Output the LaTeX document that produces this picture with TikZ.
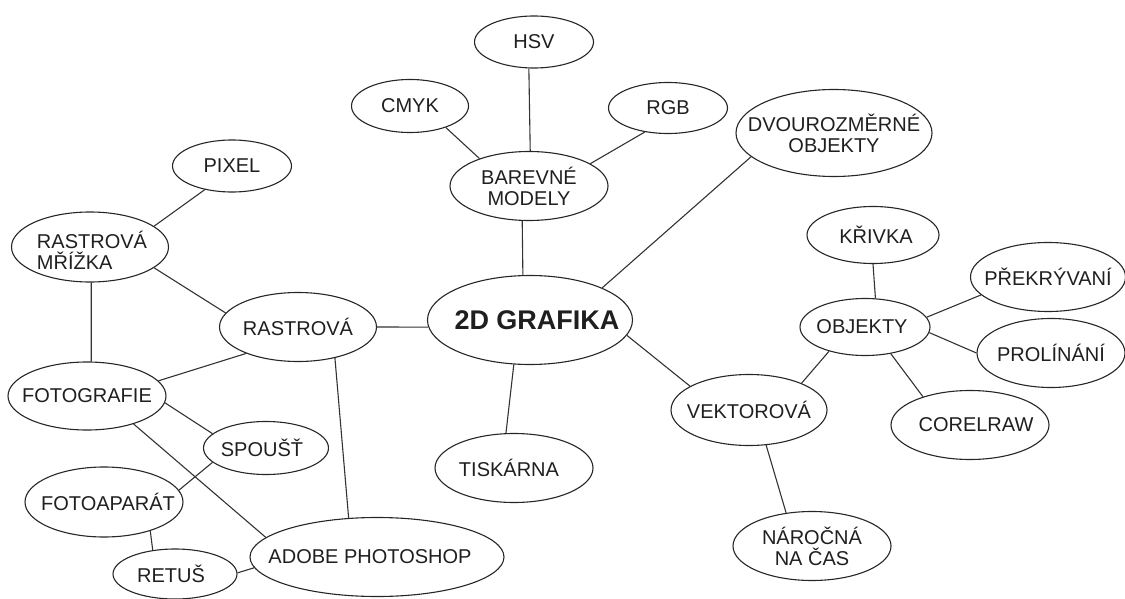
\documentclass[tikz,border=0pt]{standalone}
\usepackage{fontspec}
\setmainfont{Liberation Sans}
\usetikzlibrary{shapes.geometric}
\begin{document}
\begin{tikzpicture}[x=1pt,y=-1pt,
  bubble/.style 2 args={ellipse, draw=black!85, line width=1.1pt,
    minimum width=#1pt, minimum height=#2pt, inner sep=0pt},
  lbltext/.style={inner sep=0pt, text=black!88,
    font=\fontsize{20}{21}\selectfont, align=center},
  link/.style={draw=black!80, line width=1.1pt}]
\useasboundingbox (0,0) rectangle (1125,599);

% colour models
\node[bubble={119}{52}, label={[lbltext]center:HSV}] (hsv) at (534,42) {};
\node[bubble={117}{53}, label={[lbltext]center:CMYK}] (cmyk) at (410,106) {};
\node[bubble={119}{51}, label={[lbltext]center:RGB}] (rgb) at (668,108) {};
\node[bubble={158}{69}, label={[lbltext]center:{BAREVNÉ\\MODELY}}] (bm) at (529,186) {};
\node[bubble={196}{87}, label={[lbltext]center:{DVOUROZMĚRNÉ\\OBJEKTY}}] (dvo) at (834,133) {};

% raster branch
\node[bubble={119}{52}, label={[lbltext]center:PIXEL}] (pixel) at (232,166) {};
\node[bubble={157}{70}, label={[lbltext,align=left,xshift=2pt,yshift=-3pt]center:{RASTROVÁ\\MŘÍŽKA}}] (rm) at (90,247) {};
\node[bubble={157}{69}, label={[lbltext]center:RASTROVÁ}] (ras) at (298,327) {};
\node[bubble={158}{68}, label={[lbltext]center:FOTOGRAFIE}] (fot) at (87,396) {};
\node[bubble={125}{53}, label={[lbltext,xshift=-4pt]center:SPOUŠŤ}] (spou) at (266,448) {};
\node[bubble={158}{70}, label={[lbltext,xshift=4pt]center:FOTOAPARÁT}] (foap) at (104,502) {};
\node[bubble={124}{50}, label={[lbltext,xshift=-4pt]center:RETUŠ}] (retus) at (175,574) {};
\node[bubble={254}{79}, label={[lbltext,xshift=-7pt]center:ADOBE PHOTOSHOP}] (adobe) at (377,557) {};

% centre and printer
\node[bubble={205}{89}, label={[lbltext,xshift=7pt,font=\fontsize{27}{30}\selectfont\bfseries]center:2D GRAFIKA}] (g2d) at (530,320) {};
\node[bubble={158}{69}, label={[lbltext,xshift=-5pt]center:TISKÁRNA}] (tisk) at (514,468) {};

% vector branch
\node[bubble={156}{71}, label={[lbltext]center:VEKTOROVÁ}] (vek) at (749,410) {};
\node[bubble={130}{57}, label={[lbltext,xshift=-3pt]center:OBJEKTY}] (obj) at (865,327) {};
\node[bubble={132}{57}, label={[lbltext,xshift=3pt]center:KŘIVKA}] (kriv) at (873,235) {};
\node[bubble={155}{69}, label={[lbltext]center:PŘEKRÝVANÍ}] (prek) at (1048,277) {};
\node[bubble={148}{69}, label={[lbltext]center:PROLÍNÁNÍ}] (prol) at (1051,353) {};
\node[bubble={158}{69}, label={[lbltext,xshift=6pt]center:CORELRAW}] (corel) at (970,425) {};
\node[bubble={158}{69}, label={[lbltext]center:{NÁROČNÁ\\NA ČAS}}] (nar) at (812,546) {};

% connectors
\draw[link] (cmyk.-31) -- (bm.151);
\draw[link] (hsv.-101) -- (bm.88);
\draw[link] (rgb.226) -- (bm.20);
\draw[link] (bm.-101) -- (g2d.99);
\draw[link] (dvo.196) -- (g2d.24.6);
\draw[link] (pixel.-139) -- (rm.18);
\draw[link] (rm.-18.7) -- (ras.169.6);
\draw[link] (rm.-88) -- (fot.83);
\draw[link] (ras.0) -- (g2d.184);
\draw[link] (ras.207) -- (fot.12.5);
\draw[link] (ras.-40) -- (adobe.126);
\draw[link] (fot.-5) -- (spou.165.5);
\draw[link] (fot.-31) -- (adobe.170);
\draw[link] (spou.195) -- (foap.9.2);
\draw[link] (foap.-32.5) -- (retus.133.7);
\draw[link] (retus.1) -- (adobe.185);
\draw[link] (g2d.250.6) -- (tisk.103);
\draw[link] (g2d.-9.6) -- (vek.158.7);
\draw[link] (vek.27.8) -- (obj.214.8);
\draw[link] (vek.-64) -- (nar.128.5);
\draw[link] (kriv.-90) -- (obj.70);
\draw[link] (obj.9.2) -- (prek.195.6);
\draw[link] (obj.-5.3) -- (prol.180.8);
\draw[link] (obj.-46) -- (corel.149);
\end{tikzpicture}
\end{document}
